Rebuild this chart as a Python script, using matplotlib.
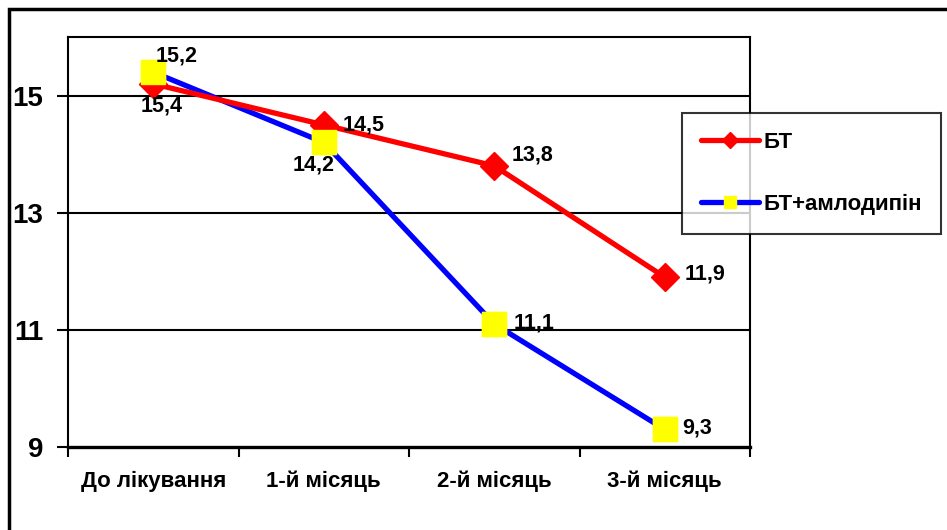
import matplotlib
matplotlib.use('Agg')
import matplotlib.pyplot as plt
from matplotlib.patches import Rectangle

plt.rcParams['font.family'] = ['Liberation Sans', 'DejaVu Sans']
plt.rcParams['font.weight'] = 'bold'

# Дані
categories = ['До лікування', '1-й місяць', '2-й місяць', '3-й місяць']
bt = [15.2, 14.5, 13.8, 11.9]
bt_aml = [15.4, 14.2, 11.1, 9.3]
bt_labels = ['15,2', '14,5', '13,8', '11,9']
bt_aml_labels = ['15,4', '14,2', '11,1', '9,3']
y_ticks = [9, 11, 13, 15]

# posunutí popisků v pixelech (dx, dy nahoru)
bt_offsets = [(23, 28), (40, 0), (38, 11), (40, 3)]
bt_aml_offsets = [(8, -34), (-10, -23), (40, 1), (32, 1)]

W, H = 947, 530
fig = plt.figure(figsize=(W / 100, H / 100), dpi=100)
ax = fig.add_axes([68 / W, 1 - 447 / H, (750 - 68) / W, (447 - 37) / H])

x = [i + 0.5 for i in range(len(categories))]

line_aml, = ax.plot(x, bt_aml, color='#0000ff', lw=3.8, marker='s', ms=17,
                    mfc='#ffff00', mec='#ffff00', zorder=3, solid_capstyle='round')
line_bt, = ax.plot(x, bt, color='#ff0000', lw=3.8, marker='D', ms=14,
                   mfc='#ff0000', mec='#ff0000', zorder=4, solid_capstyle='round')
ax.plot(x, bt_aml, ls='none', marker='s', ms=17, mfc='#ffff00', mec='#ffff00', zorder=5)

for xi, v, lab, (dx, dy) in zip(x, bt, bt_labels, bt_offsets):
    ax.annotate(lab, (xi, v), xytext=(dx * 0.72, dy * 0.72), textcoords='offset points',
                ha='center', va='center', fontsize=15.5, fontweight='bold', zorder=6)
for xi, v, lab, (dx, dy) in zip(x, bt_aml, bt_aml_labels, bt_aml_offsets):
    ax.annotate(lab, (xi, v), xytext=(dx * 0.72, dy * 0.72), textcoords='offset points',
                ha='center', va='center', fontsize=15.5, fontweight='bold', zorder=6)

ax.set_xlim(0, len(categories))
ax.set_ylim(9, 16)
ax.set_yticks(y_ticks)
ax.set_yticklabels([str(t) for t in y_ticks], fontsize=20, fontweight='bold')
ax.set_xticks(range(len(categories) + 1))
ax.set_xticklabels([])
ax.set_xticks(x, minor=True)
ax.set_xticklabels(categories, minor=True, fontsize=16, fontweight='bold')
ax.tick_params(axis='x', which='minor', length=0, pad=17)
ax.tick_params(axis='x', which='major', length=7, width=1.5, direction='out')
ax.tick_params(axis='y', length=8, width=1.5, direction='out', pad=10)

for y in y_ticks[1:]:
    ax.axhline(y, color='black', lw=1.5, zorder=1)
for s in ax.spines.values():
    s.set_linewidth(1.5)
ax.spines['bottom'].set_linewidth(2.4)

leg = fig.legend([line_bt, line_aml], ['БТ', 'БТ+амлодипін'], loc='upper left',
                 bbox_to_anchor=(682 / W, 1 - 113 / H), fontsize=16, frameon=True,
                 fancybox=False, edgecolor='black', borderpad=0.85, labelspacing=1.85,
                 handlelength=2.6, handletextpad=0.2, markerscale=0.55,
                 borderaxespad=0)
leg.get_frame().set_linewidth(1.5)
leg.set_zorder(10)

fig.patches.append(Rectangle((9 / W, -0.1), 1.2, 1 - 9 / H + 0.1, transform=fig.transFigure,
                             fill=False, lw=2.5, edgecolor='black'))

fig.savefig('out.png', dpi=100)
